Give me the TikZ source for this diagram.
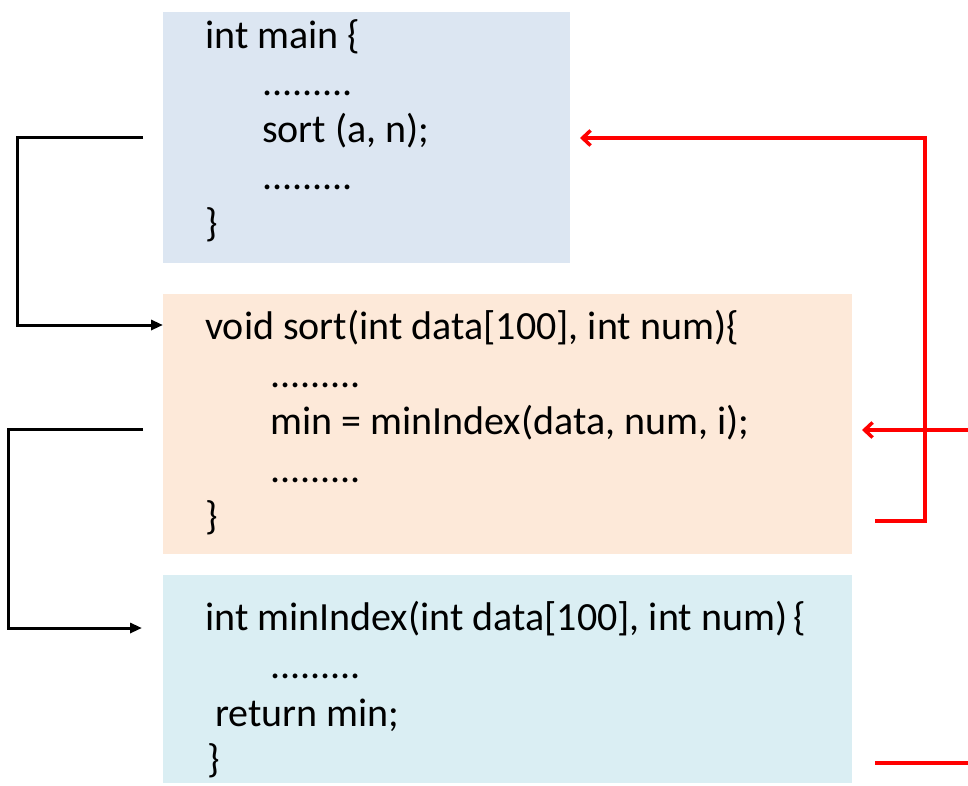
\documentclass[tikz,border=0pt]{standalone}
\usepackage{fontspec}
\setmainfont{Carlito}
\usepackage{tikz}
\usetikzlibrary{positioning, arrows.meta, calc}

\definecolor{mainfill}{HTML}{DCE6F2}
\definecolor{sortfill}{HTML}{FDE9D9}
\definecolor{minfill}{HTML}{DAEEF3}

\tikzset{
    codebox/.style={anchor=north west, inner sep=0pt, outer sep=0pt},
    code/.style={anchor=base west, inner sep=0pt, font=\fontsize{40}{47}\selectfont},
    callline/.style={line width=3pt, -{Triangle[length=12pt,width=10pt]}},
    retline/.style={red, line width=3.5pt, -{Straight Barb[length=8pt,width=15pt]}}
}

\begin{document}
\begin{tikzpicture}[x=1pt,y=-1pt]
\useasboundingbox (0,0) rectangle (968,785);
% main function
\begin{scope}
    \node[codebox, fill=mainfill, minimum width=407, minimum height=251] (mainbox) at (163,12) {};
    \node[code] (m1) at (205,48) {int main \{};
    \node[code] (m2) at (262,95) {.........};
    \node[code] (m3) at (262,142) {sort (a, n);};
    \node[code] (m4) at (262,189) {.........};
    \node[code] (m5) at (205,236) {\}};
\end{scope}

% sort function
\begin{scope}
    \node[codebox, fill=sortfill, minimum width=689, minimum height=260] (sortbox) at (163,294) {};
    \node[code] (s1) at (205,339) {void sort(int data[100], int num)\{};
    \node[code] (s2) at (270,387) {.........};
    \node[code] (s3) at (270,434) {min = minIndex(data, num, i);};
    \node[code] (s4) at (270,482) {.........};
    \node[code] (s5) at (205,529) {\}};
\end{scope}

% minIndex function
\begin{scope}
    \node[codebox, fill=minfill, minimum width=689, minimum height=208] (minbox) at (163,575) {};
    \node[code] (n1) at (205,630) {int minIndex(int data[100], int num)\,\{};
    \node[code] (n2) at (270,678) {.........};
    \node[code] (n3) at (215,726) {return min;};
    \node[code] (n4) at (207,772) {\}};
\end{scope}

% calls
\coordinate (callsort) at (143,137);
\coordinate (intosort) at (163,325);
\draw[callline] (callsort) -- ++(-126,0) |- (intosort);
\coordinate (callmin) at (143,429);
\coordinate (intomin) at (142,628);
\draw[callline] (callmin) -- ++(-135,0) |- (intomin);

% returns
\coordinate (sortend) at (875,521);
\coordinate (backmain) at (580,138);
\draw[retline] (sortend) -- ++(50,0) |- (backmain);
\coordinate (minret) at (968,430);
\coordinate (backsort) at (862,430);
\draw[retline] (minret) -- (backsort);
\coordinate (minend) at (875,763);
\draw[red, line width=3.5pt] (minend) -- ++(93,0);
\end{tikzpicture}
\end{document}
